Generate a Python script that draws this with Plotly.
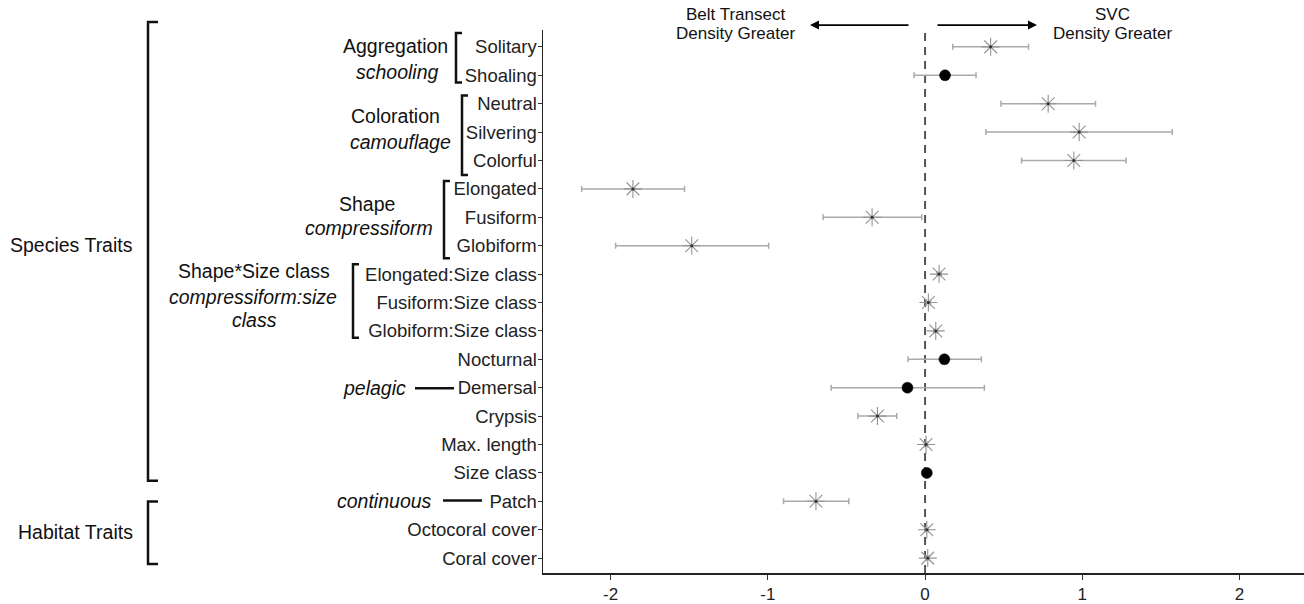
import plotly.graph_objects as go

# ---------------- data ----------------
labels = ["Solitary", "Shoaling", "Neutral", "Silvering", "Colorful",
          "Elongated", "Fusiform", "Globiform",
          "Elongated:Size class", "Fusiform:Size class", "Globiform:Size class",
          "Nocturnal", "Demersal", "Crypsis", "Max. length", "Size class",
          "Patch", "Octocoral cover", "Coral cover"]
estimate = [0.417, 0.127, 0.783, 0.980, 0.946,
            -1.858, -0.337, -1.484,
            0.089, 0.021, 0.068,
            0.123, -0.112, -0.303, 0.006, 0.011,
            -0.694, 0.011, 0.017]
ci_low = [0.176, -0.070, 0.483, 0.387, 0.614,
          -2.184, -0.648, -1.968,
          0.075, 0.008, 0.055,
          -0.108, -0.597, -0.428, -0.004, 0.003,
          -0.900, 0.001, 0.007]
ci_high = [0.658, 0.324, 1.084, 1.572, 1.278,
           -1.530, -0.021, -0.995,
           0.103, 0.034, 0.081,
           0.358, 0.377, -0.180, 0.016, 0.019,
           -0.485, 0.021, 0.027]
# significant (asterisk) vs not (filled dot)
significant = [True, False, True, True, True,
               True, True, True,
               True, True, True,
               False, False, True, True, False,
               True, True, True]
x_ticks = [-2, -1, 0, 1, 2]

# ---------------- geometry helpers ----------------
W, H = 1304, 604
L, R, T, B = 543, 0, 30, 27
PW, PH = W - L - R, H - T - B


def px(x):
    return (x - L) / PW


def py(y):
    return (H - B - y) / PH


n = len(labels)
ypos = [n - 1 - i for i in range(n)]

fig = go.Figure()

FONT = "Liberation Sans, Arial, Helvetica, sans-serif"

for sig, sym, size, col, lw in [
        (True, "asterisk-open", 15, "#939393", 1.1),
        (False, "circle", 11, "#000000", 0.5)]:
    idx = [i for i in range(n) if significant[i] == sig]
    xs = [estimate[i] for i in idx]
    ys = [ypos[i] for i in idx]
    plus = [ci_high[i] - estimate[i] for i in idx]
    minus = [estimate[i] - ci_low[i] for i in idx]
    fig.add_trace(go.Scatter(
        x=xs, y=ys, mode="markers", showlegend=False,
        error_x=dict(type="data", symmetric=False, array=plus, arrayminus=minus,
                     color="#aaaaaa", thickness=1.5, width=3),
        marker=dict(symbol=sym, size=size, color=col,
                    line=dict(color=col, width=lw)),
    ))
    if sig:
        fig.add_trace(go.Scatter(
            x=xs, y=ys, mode="markers", showlegend=False,
            marker=dict(symbol="circle", size=3, color="#333333"),
        ))

# dashed zero line
fig.add_shape(type="line", xref="x", yref="paper", x0=0, x1=0, y0=0, y1=1,
              line=dict(color="#555555", width=2, dash="8px,6px"), layer="below")

# ---------------- brackets ----------------
def bracket(x, y0, y1, serif, width=2.5):
    path = (f"M {px(x + serif)},{py(y0)} L {px(x)},{py(y0)} "
            f"L {px(x)},{py(y1)} L {px(x + serif)},{py(y1)}")
    fig.add_shape(type="path", xref="paper", yref="paper", path=path,
                  line=dict(color="#111111", width=width))


bracket(456, 33, 83, 6)      # Aggregation
bracket(462, 96, 176, 6)     # Coloration
bracket(444, 182, 260, 6)    # Shape
bracket(353, 266, 340, 6)    # Shape*Size
bracket(148, 22, 484, 10)    # Species traits
bracket(148, 505, 568, 10)   # Habitat traits


def hline(x0, x1, y):
    fig.add_shape(type="line", xref="paper", yref="paper",
                  x0=px(x0), x1=px(x1), y0=py(y), y1=py(y),
                  line=dict(color="#111111", width=2.5))


hline(415, 454, 391)   # pelagic
hline(443, 482, 504)   # continuous

# ---------------- texts ----------------
def text(s, x, y, size=19.5, italic=False, color="#111111"):
    fig.add_annotation(x=px(x), y=py(y), xref="paper", yref="paper",
                       text=(f"<i>{s}</i>" if italic else s), showarrow=False,
                       xanchor="center", yanchor="middle",
                       font=dict(family=FONT, size=size, color=color))


text("Aggregation", 395, 46)
text("schooling", 397, 72, italic=True)
text("Coloration", 395, 117)
text("camouflage", 400, 143, italic=True)
text("Shape", 367, 205)
text("compressiform", 369, 229, italic=True)
text("Shape*Size class", 254, 273)
text("compressiform:size", 253, 299, italic=True)
text("class", 254, 322, italic=True)
text("pelagic", 374, 391, italic=True)
text("continuous", 384, 504, italic=True)
text("Species Traits", 71, 247)
text("Habitat Traits", 75, 536)

text("Belt Transect", 735, 14, size=17)
text("Density Greater", 735, 34, size=17)
text("SVC", 1112, 14, size=17)
text("Density Greater", 1112, 34, size=17)

# arrows
fig.add_annotation(x=px(810), y=py(25), xref="paper", yref="paper", text="",
                   showarrow=True, ax=100, ay=0, arrowhead=2, arrowsize=1,
                   arrowwidth=1.8, arrowcolor="#000000", standoff=0, startstandoff=0)
fig.add_annotation(x=px(1037), y=py(25), xref="paper", yref="paper", text="",
                   showarrow=True, ax=-101, ay=0, arrowhead=2, arrowsize=1,
                   arrowwidth=1.8, arrowcolor="#000000", standoff=0, startstandoff=0)

# ---------------- layout ----------------
fig.update_layout(
    width=W, height=H,
    margin=dict(l=L, r=R, t=T, b=B, pad=0),
    paper_bgcolor="white", plot_bgcolor="white",
    font=dict(family=FONT, color="#222222"),
    showlegend=False,
    hovermode=False,
    xaxis=dict(range=[-2.43, 2.41], tickvals=x_ticks,
               ticktext=[str(v) for v in x_ticks],
               showgrid=False, zeroline=False,
               showline=True, linecolor="#222222", linewidth=1.5,
               ticks="outside", ticklen=5, tickcolor="#333333", tickwidth=1,
               tickfont=dict(family=FONT, size=17, color="#222222")),
    yaxis=dict(range=[-0.524, 18.594], tickvals=ypos, ticktext=labels,
               showgrid=False, zeroline=False,
               showline=True, linecolor="#222222", linewidth=1.5,
               ticks="outside", ticklen=4, tickcolor="#333333", tickwidth=1,
               ticklabelstandoff=-3,
               tickfont=dict(family=FONT, size=18.5, color="#222222")),
)

fig.write_html(
    "out.html",
    config={"displayModeBar": False, "staticPlot": True},
    post_script="document.body.style.margin='0px';document.body.style.overflow='hidden';",
)
